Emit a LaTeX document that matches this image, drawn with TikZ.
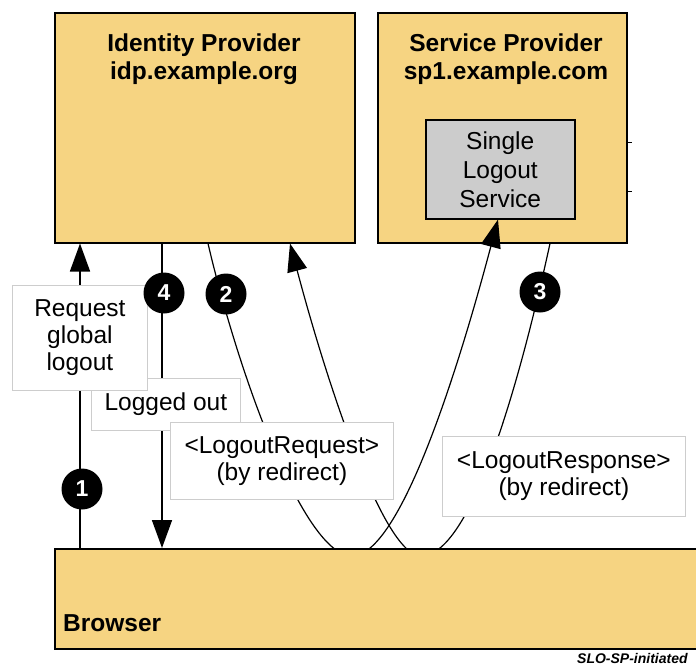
\documentclass[tikz,border=0pt]{standalone}
\usepackage{fontspec}
\setmainfont{Liberation Sans}
\usetikzlibrary{arrows.meta}

\definecolor{boxyellow}{RGB}{246,212,130}
\definecolor{slsgray}{RGB}{204,204,204}
\definecolor{lblborder}{RGB}{205,205,205}

\tikzset{
  mainbox/.style={draw=black, line width=1.5pt, fill=boxyellow, inner sep=0pt},
  slsbox/.style={draw=black, line width=1.5pt, fill=slsgray, inner sep=0pt,
    align=center, font=\fontsize{24.5}{29}\selectfont},
  titletext/.style={inner sep=0pt, align=center, font=\bfseries\fontsize{24.5}{28}\selectfont},
  labelbox/.style={draw=lblborder, line width=0.8pt, fill=white, inner sep=0pt,
    align=center, font=\fontsize{24.5}{27}\selectfont},
  straightconn/.style={line width=1.6pt, -{Triangle[length=28pt,width=20pt]}},
  curveconn/.style={line width=1.2pt, -{Triangle[length=28pt,width=20pt]}},
  stepnum/.style={circle, fill=black, text=white, minimum size=41pt, inner sep=0pt,
    font=\bfseries\fontsize{23}{23}\selectfont},
}

\begin{document}
\begin{tikzpicture}[x=1pt,y=-1pt]
\useasboundingbox (0,0) rectangle (696,665);

% identity provider and service provider
\node[mainbox, minimum width=300pt, minimum height=230pt, anchor=north west] (idp) at (54,12) {};
\node[titletext, anchor=north] (idptitle) at (204,34) {Identity Provider\\idp.example.org};
\node[mainbox, minimum width=249pt, minimum height=230pt, anchor=north west] (sp) at (377,12) {};
\node[titletext, anchor=north] (sptitle) at (506,34) {Service Provider\\sp1.example.com};
\node[slsbox, minimum width=149pt, minimum height=99pt, anchor=north west] (sls) at (425,119) {Single\\Logout\\Service};

% small ticks on the right side of the service provider
\coordinate (tk1) at (626,142);
\coordinate (tk2) at (626,191);
\draw[line width=1pt] (tk1) -- ++(6,0);
\draw[line width=1pt] (tk2) -- ++(6,0);

% top edge of the browser
\path (54,548) coordinate (brtop);

% step 1: browser -> idp
\coordinate (a1b) at (80,548);
\coordinate (a1t) at (80,0 |- idp.south);
\draw[straightconn] (a1b) -- (a1t);

% step 4: idp -> browser
\coordinate (a4t) at (162,0 |- idp.south);
\coordinate (a4b) at (162,548);
\draw[straightconn] (a4t) -- (a4b);

% step 2: idp -> browser -> single logout service
\coordinate (c2s) at (208,0 |- idp.south);
\coordinate (c2m) at (352,556);
\coordinate (c2e) at (498,0 |- sls.south);
\draw[curveconn] (c2s) .. controls (240,380) and (305,556) .. (c2m)
  .. controls (400,556) and (458,370) .. (c2e);

% step 3: service provider -> browser -> idp
\coordinate (c3s) at (550,0 |- sp.south);
\coordinate (c3m) at (421,556);
\coordinate (c3e) at (290,0 |- idp.south);
\draw[curveconn] (c3s) .. controls (518,390) and (470,556) .. (c3m)
  .. controls (385,556) and (330,394) .. (c3e);

% message labels
\node[labelbox, minimum width=149pt, minimum height=52pt, anchor=north west] (lbllogged) at (91,378) {Logged out};
\node[labelbox, minimum width=135pt, minimum height=105pt, anchor=north west] (lblreq) at (12,285) {Request\\global\\logout};
\node[labelbox, minimum width=223pt, minimum height=77pt, anchor=north west] (lbllreq) at (170,422) {<LogoutRequest>\\(by redirect)};
\node[labelbox, minimum width=243pt, minimum height=80pt, anchor=north west] (lbllresp) at (442,436) {<LogoutResponse>\\(by redirect)};

% step numbers
\node[stepnum] (n1) at (82,489) {1};
\node[stepnum] (n4) at (164,293) {4};
\node[stepnum] (n2) at (226,294) {2};
\node[stepnum] (n3) at (540,292) {3};

% browser
\node[mainbox, minimum width=646pt, minimum height=100pt, anchor=north west] (br) at (brtop) {};
\node[inner sep=0pt, anchor=base west, font=\bfseries\fontsize{24.5}{28}\selectfont] (brtext) at (63,631) {Browser};

% figure tag
\node[inner sep=0pt, anchor=base west, font=\bfseries\itshape\fontsize{14}{14}\selectfont] (figtag) at (577,663) {SLO-SP-initiated};
\end{tikzpicture}
\end{document}
